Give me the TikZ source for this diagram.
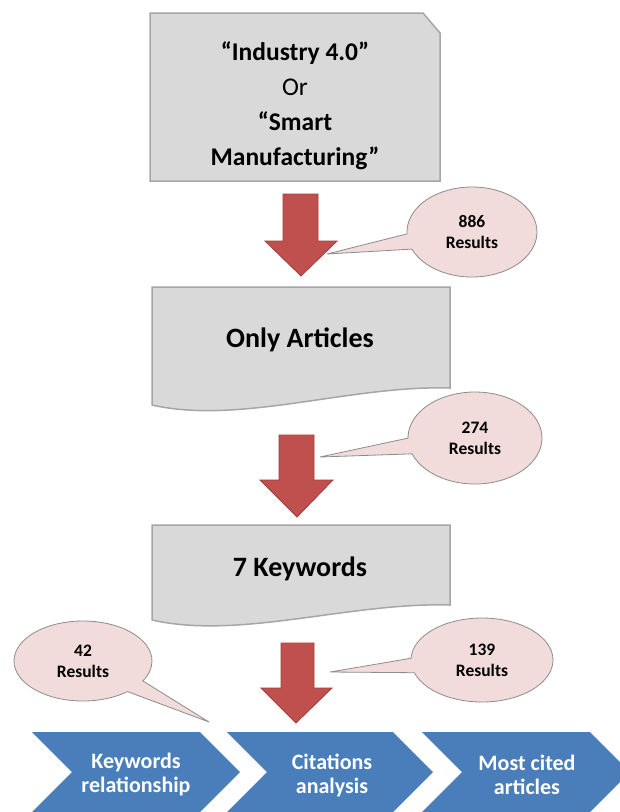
\documentclass[tikz,border=0pt]{standalone}
\usepackage{fontspec}
\setmainfont{Carlito}
\usetikzlibrary{shapes.callouts}
\definecolor{boxfill}{HTML}{D9D9D9}
\definecolor{boxline}{HTML}{A6A6A6}
\definecolor{arrowred}{HTML}{C0504D}
\definecolor{arrowline}{HTML}{A03E3B}
\definecolor{calloutfill}{HTML}{F2DCDB}
\definecolor{calloutline}{HTML}{8C8C8C}
\definecolor{chevblue}{HTML}{4A7EBB}
\begin{document}
\begin{tikzpicture}[x=1pt,y=-1pt]
\tikzset{
  box/.style={fill=boxfill, draw=boxline, line width=1.5pt, line join=miter},
  blockarrow/.style={fill=arrowred, draw=arrowline, line width=0.8pt},
  bubble/.style={ellipse callout, fill=calloutfill, draw=calloutline, line width=0.8pt,
    inner sep=0pt, align=center, font=\bfseries\fontsize{17.5}{21}\selectfont,
    callout pointer arc=20},
  chev/.style={fill=chevblue},
  chevtext/.style={text=white, align=center, font=\bfseries\fontsize{22}{24}\selectfont},
  boxtext/.style={align=center, font=\fontsize{25.5}{35}\selectfont},
}
\useasboundingbox (0,0) rectangle (620,812);
\clip (0,0) rectangle (620,812);

% boxes
\draw[box] (150,13) -- (423,13) -- (440,33) -- (440,181) -- (150,181) -- cycle;
\node[boxtext] (t1) at (295,106) {{\bfseries “Industry 4.0”}\\Or\\{\bfseries “Smart}\\{\bfseries Manufacturing”}};

\draw[box] (152,287) -- (450,287) -- (450,388) .. controls (350,385) and (240,425) .. (152,405) -- cycle;
\node[boxtext, font=\bfseries\fontsize{28}{34}\selectfont] (t2) at (300,340) {Only Articles};

\draw[box] (152,525) -- (450,525) -- (450,605) .. controls (350,602) and (240,640) .. (152,620) -- cycle;
\node[boxtext, font=\bfseries\fontsize{28}{34}\selectfont] (t3) at (300,569) {7 Keywords};

% block arrows
\draw[blockarrow] (283,194) -- (318,194) -- (318,241) -- (337,241) -- (301,276) -- (265,241) -- (283,241) -- cycle;
\draw[blockarrow] (279,435) -- (314,435) -- (314,480) -- (333,480) -- (297,517) -- (260,480) -- (279,480) -- cycle;
\draw[blockarrow] (281,643) -- (314,643) -- (314,688) -- (332,688) -- (296,723) -- (261,688) -- (281,688) -- cycle;

\coordinate (p1) at (327,254);
\coordinate (p2) at (320,457);
\coordinate (p3) at (209,722);
\coordinate (p4) at (330,672);

% callouts
\node[bubble, minimum width=130pt, minimum height=90pt, callout absolute pointer={(p1)}] (c1) at (472,232) {886\\Results};
\node[bubble, minimum width=134pt, minimum height=92pt, callout absolute pointer={(p2)}] (c2) at (475,438) {274\\Results};
\node[bubble, minimum width=138pt, minimum height=80pt, callout absolute pointer={(p3)}] (c3) at (83,661) {42\\Results};
\node[bubble, minimum width=142pt, minimum height=84pt, callout absolute pointer={(p4)}] (c4) at (482,660) {139\\Results};

% chevrons
\fill[chev] (32,732) -- (200,732) -- (240,772) -- (200,812) -- (32,812) -- (72,772) -- cycle;
\fill[chev] (227,732) -- (393,732) -- (433,772) -- (393,812) -- (227,812) -- (267,772) -- cycle;
\fill[chev] (422,732) -- (590,732) -- (630,772) -- (590,812) -- (422,812) -- (462,772) -- cycle;
\node[chevtext] (k1) at (136,775) {Keywords\\relationship};
\node[chevtext] (k2) at (332,775) {Citations\\analysis};
\node[chevtext] (k3) at (527,775) {Most cited\\articles};
\end{tikzpicture}
\end{document}
